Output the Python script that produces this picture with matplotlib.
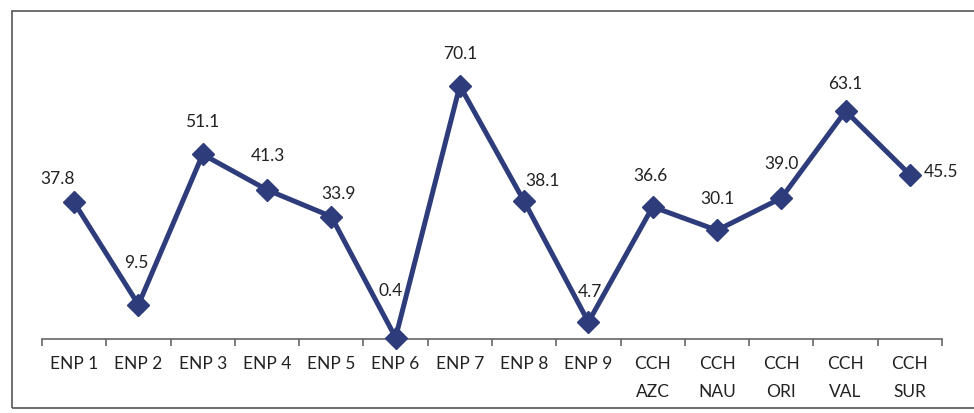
import matplotlib
matplotlib.use("Agg")
import matplotlib.pyplot as plt
from matplotlib.patches import Rectangle

categories = ["ENP 1", "ENP 2", "ENP 3", "ENP 4", "ENP 5", "ENP 6", "ENP 7",
              "ENP 8", "ENP 9", "CCH\nAZC", "CCH\nNAU", "CCH\nORI", "CCH\nVAL",
              "CCH\nSUR"]
values = [37.8, 9.5, 51.1, 41.3, 33.9, 0.4, 70.1, 38.1, 4.7, 36.6, 30.1, 39.0,
          63.1, 45.5]

# label offsets in pixels (dx, dy) as placed in the original
label_offsets = [(-17, 23), (-2, 42), (-1, 32), (1, 34), (7, 23), (-5, 47),
                 (0, 32), (18, 20), (2, 30), (-2, 31), (0, 31), (0, 34),
                 (0, 27), (31, 3)]

plt.rcParams['font.family'] = ['Lato', 'DejaVu Sans']

navy = "#2E3C7C"

fig = plt.figure(figsize=(9.74, 4.13), dpi=100)
fig.patches.append(Rectangle((12 / 974, 5 / 413), 1.0, 397 / 413,
                             transform=fig.transFigure, fill=False,
                             edgecolor="#555555", linewidth=1.2))

ax = fig.add_axes([42 / 974, 1 - 339 / 413, 900 / 974, 289 / 413])
x = list(range(len(values)))
ax.plot(x, values, color=navy, linewidth=3.6, marker="D", markersize=11,
        clip_on=False, zorder=3)

for xi, v, (dx, dy) in zip(x, values, label_offsets):
    ax.annotate(f"{v:.1f}", (xi, v), xytext=(dx * 0.72, dy * 0.72),
                textcoords="offset points", ha="center", va="center",
                fontsize=12.5, color="#222222")

ax.set_xlim(-0.5, len(values) - 0.5)
ax.set_ylim(0, 80)
ax.set_xticks(x)
ax.set_xticklabels(categories, fontsize=12.5, color="#222222", linespacing=1.95,
                   va="top")
ax.set_xticks([i - 0.5 for i in range(len(values) + 1)], minor=True)
ax.tick_params(axis="x", which="major", length=0, pad=12)
ax.tick_params(axis="x", which="minor", length=5, color="#666666", width=1.2)
ax.set_yticks([])
for side in ["top", "right", "left"]:
    ax.spines[side].set_visible(False)
ax.spines["bottom"].set_color("#666666")
ax.spines["bottom"].set_linewidth(1.2)

fig.savefig("out.png", dpi=100)
